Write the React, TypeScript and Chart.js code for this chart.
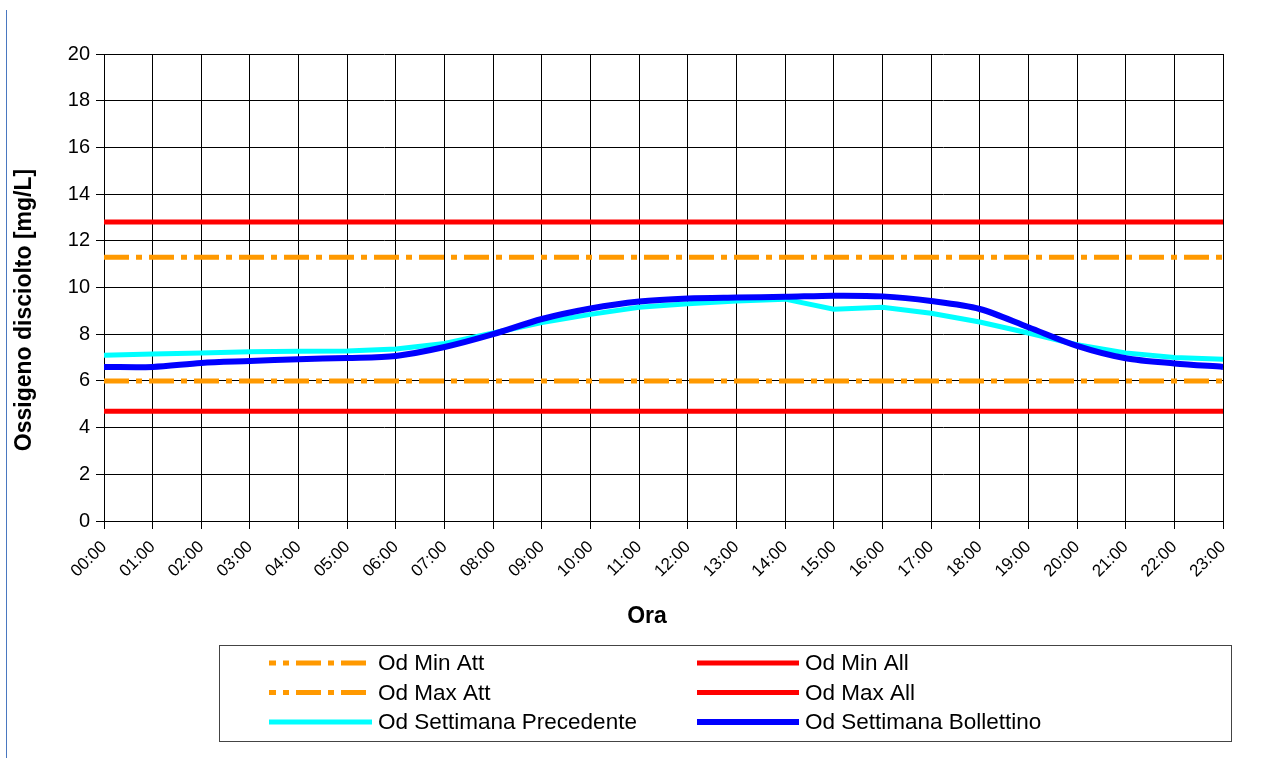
import React, { useEffect, useRef } from "react";
import { Chart, registerables } from "chart.js";

Chart.register(...registerables);

const hours = [
  "00:00", "01:00", "02:00", "03:00", "04:00", "05:00", "06:00", "07:00",
  "08:00", "09:00", "10:00", "11:00", "12:00", "13:00", "14:00", "15:00",
  "16:00", "17:00", "18:00", "19:00", "20:00", "21:00", "22:00", "23:00",
];

const odMinAtt = [6, 6, 6, 6, 6, 6, 6, 6, 6, 6, 6, 6, 6, 6, 6, 6, 6, 6, 6, 6, 6, 6, 6, 6];
const odMinAll = [4.7, 4.7, 4.7, 4.7, 4.7, 4.7, 4.7, 4.7, 4.7, 4.7, 4.7, 4.7, 4.7, 4.7, 4.7, 4.7, 4.7, 4.7, 4.7, 4.7, 4.7, 4.7, 4.7, 4.7];
const odMaxAtt = [11.3, 11.3, 11.3, 11.3, 11.3, 11.3, 11.3, 11.3, 11.3, 11.3, 11.3, 11.3, 11.3, 11.3, 11.3, 11.3, 11.3, 11.3, 11.3, 11.3, 11.3, 11.3, 11.3, 11.3];
const odMaxAll = [12.8, 12.8, 12.8, 12.8, 12.8, 12.8, 12.8, 12.8, 12.8, 12.8, 12.8, 12.8, 12.8, 12.8, 12.8, 12.8, 12.8, 12.8, 12.8, 12.8, 12.8, 12.8, 12.8, 12.8];
const odPrecedente = [7.1, 7.15, 7.2, 7.25, 7.27, 7.28, 7.37, 7.6, 8.05, 8.5, 8.85, 9.15, 9.3, 9.42, 9.5, 9.07, 9.15, 8.9, 8.52, 8.05, 7.55, 7.2, 7.0, 6.93];
const odBollettino = [6.6, 6.6, 6.77, 6.85, 6.93, 6.98, 7.07, 7.45, 8.0, 8.65, 9.1, 9.4, 9.53, 9.57, 9.6, 9.65, 9.62, 9.42, 9.08, 8.3, 7.5, 6.97, 6.75, 6.6];

const yTicks = [0, 2, 4, 6, 8, 10, 12, 14, 16, 18, 20];

const xTitle = "Ora";
const yTitle = "Ossigeno disciolto [mg/L]";

const FONT = '"Liberation Sans", Arial, sans-serif';
const DASHDOT = [25, 7, 6, 7];

const boxLegend = {
  id: "boxLegend",
  afterDraw(chart: any) {
    const ctx = chart.ctx as CanvasRenderingContext2D;
    ctx.save();
    // axis titles
    ctx.fillStyle = "#000";
    ctx.font = `bold 23px ${FONT}`;
    ctx.textAlign = "center";
    ctx.textBaseline = "middle";
    ctx.fillText(xTitle, 647, 617);
    ctx.save();
    ctx.translate(25, 310);
    ctx.rotate(-Math.PI / 2);
    ctx.fillText(yTitle, 0, 0);
    ctx.restore();

    // legend box
    ctx.strokeStyle = "#444";
    ctx.lineWidth = 1;
    ctx.setLineDash([]);
    ctx.strokeRect(219.5, 645.5, 1012, 96);
    chart.data.datasets.forEach((ds: any, i: number) => {
      const col = i % 2;
      const row = Math.floor(i / 2);
      const x0 = col ? 697 : 269;
      const x1 = col ? 799 : 372;
      const y = 663 + row * 29.5;
      ctx.beginPath();
      ctx.setLineDash(ds.borderDash || []);
      ctx.lineDashOffset = ds.borderDash ? 18 : 0;
      ctx.lineCap = "butt";
      ctx.lineWidth = ds.borderWidth;
      ctx.strokeStyle = ds.borderColor;
      ctx.moveTo(x0, y);
      ctx.lineTo(x1, y);
      ctx.stroke();
      ctx.setLineDash([]);
      ctx.fillStyle = "#000";
      ctx.font = `22.5px ${FONT}`;
      ctx.textBaseline = "middle";
      ctx.textAlign = "left";
      ctx.fillText(ds.label, x1 + 6, y + 1);
    });
    ctx.restore();
  },
};

export default function App() {
  const ref = useRef<HTMLCanvasElement | null>(null);

  useEffect(() => {
    if (!ref.current) return;
    const mk = (label: string, data: number[], color: string, width: number, dash: number[] | undefined, order: number, tension = 0) => ({
      label,
      data,
      borderColor: color,
      backgroundColor: color,
      borderWidth: width,
      borderDash: dash,
      borderCapStyle: "butt" as const,
      pointRadius: 0,
      pointHoverRadius: 0,
      fill: false,
      tension,
      order,
    });
    const chart = new Chart(ref.current, {
      type: "line",
      data: {
        labels: hours,
        datasets: [
          mk("Od Min Att", odMinAtt, "#FF9900", 5, DASHDOT, 5),
          mk("Od Min All", odMinAll, "#FF0000", 5, undefined, 4),
          mk("Od Max Att", odMaxAtt, "#FF9900", 5, DASHDOT, 3),
          mk("Od Max All", odMaxAll, "#FF0000", 5, undefined, 2),
          mk("Od Settimana Precedente", odPrecedente, "#00FFFF", 5, undefined, 1),
          mk("Od Settimana Bollettino", odBollettino, "#0000FF", 6, undefined, 0, 0.3),
        ],
      },
      options: {
        responsive: false,
        animation: false,
        devicePixelRatio: 1,
        layout: { padding: { left: 0, top: 54, right: 52, bottom: 118 } },
        plugins: {
          legend: { display: false },
          tooltip: { enabled: false },
          title: { display: false },
        },
        scales: {
          x: {
            type: "category",
            offset: false,
            grid: { color: "#000", lineWidth: 1, tickLength: 8, offset: false },
            border: { color: "#000", width: 1 },
            ticks: {
              color: "#000",
              font: { family: FONT, size: 17 },
              maxRotation: 45,
              minRotation: 45,
              autoSkip: false,
              padding: 8,
            },
            title: { display: false, text: xTitle },
            afterFit(scale: any) {
              scale.height = 119;
            },
          },
          y: {
            min: 0,
            max: 20,
            grid: { color: "#000", lineWidth: 1, tickLength: 8 },
            border: { color: "#000", width: 1 },
            afterBuildTicks(scale: any) {
              scale.ticks = yTicks.map((v) => ({ value: v }));
            },
            ticks: {
              color: "#000",
              font: { family: FONT, size: 20 },
              padding: 6,
            },
            title: { display: false, text: yTitle },
            afterFit(scale: any) {
              scale.width = 104;
            },
          },
        },
      },
      plugins: [boxLegend],
    });
    return () => chart.destroy();
  }, []);

  return (
    <div style={{ position: "fixed", left: 0, top: 0, width: 1275, height: 758, background: "#fff" }}>
      <div style={{ position: "absolute", left: 6, top: 10, width: 1, height: 748, background: "#4a78c0" }} />
      <canvas ref={ref} width={1275} height={758} style={{ position: "absolute", left: 0, top: 0, width: 1275, height: 758 }} />
    </div>
  );
}
